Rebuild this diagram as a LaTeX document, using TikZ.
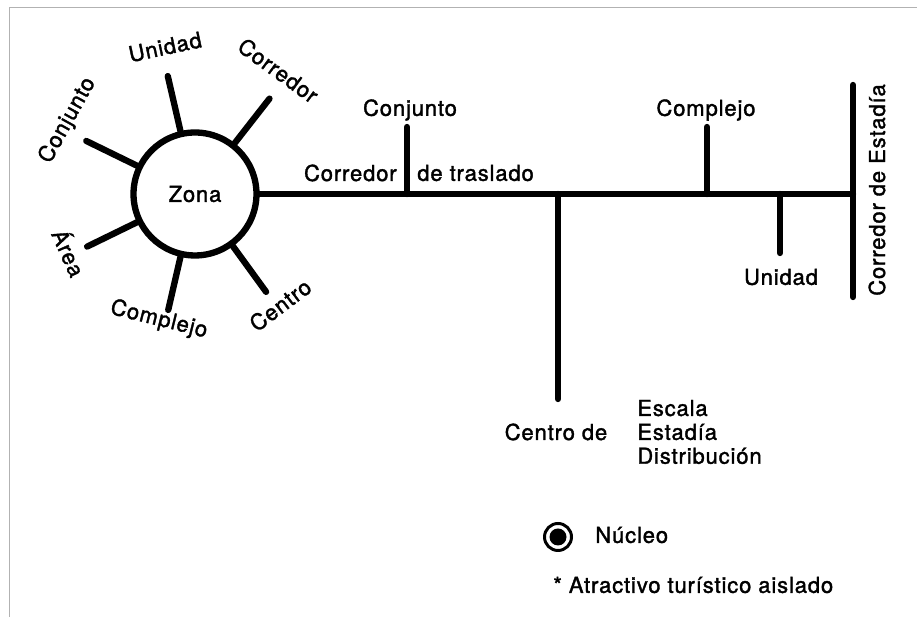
\documentclass[tikz,border=0pt]{standalone}
\usepackage{fontspec}
\setmainfont{TeX Gyre Heros}[LetterSpace=4, FakeBold=1.6]
\usetikzlibrary{calc}

\tikzset{
	ramal/.style={line width=3.6pt, line cap=round},
	etiq/.style={font=\fontsize{12.5}{13.6}\selectfont, inner sep=0pt},
}

\begin{document}
\begin{tikzpicture}[x=0.02cm,y=0.02cm]
		\useasboundingbox (0,0) rectangle (917,617);
		\draw[black!30, thin] (9,0) -- (9,610) -- (917,610);

		% zona y sus radios
		\node[circle, draw, line width=3.6pt, minimum size=2.46cm, etiq] (zona) at (195,423) {Zona};
		\coordinate (zUnidad) at ($(zona.center)+(103:121)$);
		\coordinate (zCorredor) at ($(zona.center)+(52:121)$);
		\coordinate (zConjunto) at ($(zona.center)+(154:121)$);
		\coordinate (zArea) at ($(zona.center)+(206:120)$);
		\coordinate (zComplejo) at ($(zona.center)+(257:119)$);
		\coordinate (zCentro) at ($(zona.center)+(306:121)$);
		\draw[ramal] (zona.103) -- (zUnidad);
		\draw[ramal] (zona.52) -- (zCorredor);
		\draw[ramal] (zona.154) -- (zConjunto);
		\draw[ramal] (zona.206) -- (zArea);
		\draw[ramal] (zona.257) -- (zComplejo);
		\draw[ramal] (zona.306) -- (zCentro);

		\node[etiq, rotate=12] (lUnidad) at ($(zona.center)+(101.5:150)$) {Unidad};
		\node[etiq, rotate=-36] (lCorredor) at ($(zona.center)+(56:149)$) {Corredor};
		\node[etiq, rotate=61] (lConjunto) at ($(zona.center)+(150:147)$) {Conjunto};
		\node[etiq, rotate=-66] (lArea) at ($(zona.center)+(205:138)$) {Área};
		\node[etiq, rotate=-14] (lComplejo) at ($(zona.center)+(254:131)$) {Complejo};
		\node[etiq, rotate=37] (lCentro) at ($(zona.center)+(307.5:140)$) {Centro};

		% corredor de traslado
		\coordinate (ceN) at (853,532);
		\coordinate (ceS) at (853,320);
		\draw[ramal] (zona.east) -- (zona.east -| ceN);
		\draw[ramal] (ceN) -- (ceS);
		\node[etiq, rotate=90] (lEstadia) at (877,427) {Corredor de Estadía};

		\coordinate (bConjunto) at (407,490);
		\coordinate (bCentro) at (558,218);
		\coordinate (bComplejo) at (707,490);
		\coordinate (bUnidad) at (780,364);
		\draw[ramal] (bConjunto) -- (bConjunto |- zona.east);
		\draw[ramal] (bCentro) -- (bCentro |- zona.east);
		\draw[ramal] (bComplejo) -- (bComplejo |- zona.east);
		\draw[ramal] (bUnidad) -- (bUnidad |- zona.east);

		\node[etiq, anchor=east] (lTras1) at (397,444) {Corredor};
		\node[etiq, anchor=west] (lTras2) at (417,444) {de traslado};
		\node[etiq] (lConj2) at (410,507) {Conjunto};
		\node[etiq] (lComp2) at (706,507) {Complejo};
		\node[etiq] (lUni2) at (781,340) {Unidad};
		\node[etiq] (lCentroDe) at (556,185) {Centro de};
		\node[etiq, anchor=west, align=left] (lTipos) at (637,185) {Escala\\Estadía\\Distribución};

		% leyenda
		\node[circle, draw, line width=1.7pt, minimum size=0.54cm, inner sep=0pt] (nucleo) at (558,80) {};
		\fill (nucleo.center) circle (8.5);
		\node[etiq, anchor=west] (lNucleo) at (595,82) {Núcleo};
		\node[etiq, anchor=west] (lAislado) at (553,32) {* Atractivo turístico aislado};
	\end{tikzpicture}
\end{document}
